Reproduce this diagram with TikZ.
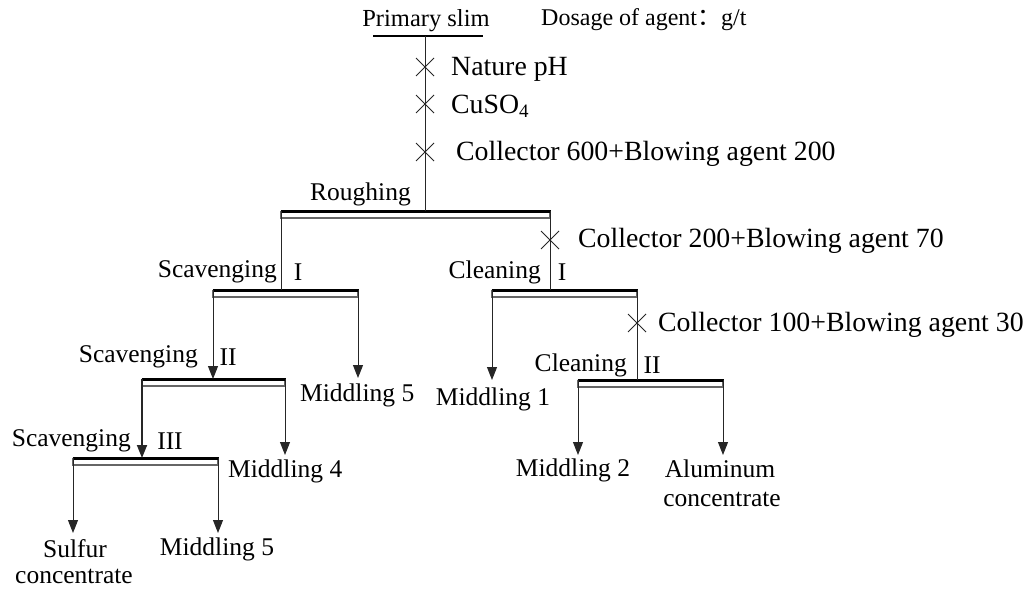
\documentclass[tikz,border=0pt]{standalone}
\usepackage{fontspec}
\setmainfont{Liberation Serif}
\newfontfamily\cjkfont{Noto Sans CJK SC}
\usetikzlibrary{arrows.meta}

% a flotation cell: thick top rule, thin lower rule, short sides
\newcommand\cellbar[4]{%
  \coordinate (#1-l) at (#2,#4);
  \coordinate (#1-r) at (#3,#4);
  \draw[cellside] (#2,#4) -- (#2,#4+7) -- (#3,#4+7) -- (#3,#4);
  \draw[celltop] (#2-0.5,#4) -- (#3+0.5,#4);
}
% reagent addition mark on a feed line
\newcommand\dosemark[2]{%
  \draw[mark line] (#1-9,#2-9) -- (#1+9,#2+9) (#1-9,#2+9) -- (#1+9,#2-9);
}

\begin{document}
\begin{tikzpicture}[x=1pt,y=-1pt,
  every node/.style={font=\fontsize{25.5}{30}\selectfont, inner sep=0pt},
  reagent/.style={anchor=west, font=\fontsize{27.8}{32}\selectfont},
  flow/.style={line width=1pt, draw=black!85},
  feed/.style={flow, -{Triangle[length=13pt,width=10pt]}},
  celltop/.style={line width=3pt, draw=black},
  cellside/.style={line width=1.2pt, draw=black!60},
  mark line/.style={line width=0.8pt, draw=black!85}]
\useasboundingbox (0,0) rectangle (1031,589);

% ---- feed ----
\node[font=\fontsize{24.5}{28}\selectfont] (feedlbl) at (426,21) {Primary slim};
\draw[line width=1.5pt] (373,36) -- (483,36);
\coordinate (F) at (425,36);
\node[anchor=west, font=\fontsize{24}{28}\selectfont] (dosage) at (541,20)
  {Dosage of agent{\cjkfont ：}g/t};

% ---- roughing ----
\cellbar{R}{281}{550}{211}
\node[anchor=west] (rlbl) at (310,194) {Roughing};
\draw[flow] (F) -- (F |- R-l);
\dosemark{425}{67}
\dosemark{425}{104}
\dosemark{425}{152}
\node[reagent] (r1) at (451,69) {Nature pH};
\node[reagent] (r2) at (451,106)
  {CuSO\raisebox{-0.3ex}{\fontsize{19}{20}\selectfont 4}};
\node[reagent] (r3) at (456,154) {Collector 600+Blowing agent 200};

% ---- scavenging line ----
\cellbar{S1}{213}{358}{290}
\node[anchor=east] (s1lbl) at (277,272) {Scavenging};
\node (s1num) at (298,272) {I};
\draw[flow] (R-l) -- (R-l |- S1-l);

\cellbar{S2}{142}{285}{379}
\node[anchor=east] (s2lbl) at (198,357) {Scavenging};
\node (s2num) at (228,357) {II};
\coordinate (S2-in) at (213,379);
\draw[feed] (S1-l) -- (S2-in);
\coordinate (S1-tail) at (358,378);
\draw[feed] (S1-r) -- (S1-tail);
\node[anchor=west] (m5a) at (300,395) {Middling 5};

\cellbar{S3}{73}{218}{458}
\node[anchor=east] (s3lbl) at (131,441) {Scavenging};
\node (s3num) at (170,441) {III};
\coordinate (S3-in) at (142,458);
\draw[feed, line width=1.8pt] (S2-l) -- (S3-in);
\coordinate (S2-tail) at (285,455);
\draw[feed] (S2-r) -- (S2-tail);
\node[anchor=west] (m4) at (228,471) {Middling 4};

\coordinate (S3-conc) at (73,533);
\coordinate (S3-tail) at (218,533);
\draw[feed] (S3-l) -- (S3-conc);
\draw[feed] (S3-r) -- (S3-tail);
\node (sulfur) at (75,549) {Sulfur};
\node (sulfur2) at (74,576) {concentrate};
\node (m5b) at (217,549) {Middling 5};

% ---- cleaning line ----
\cellbar{C1}{492}{637}{290}
\node[anchor=east] (c1lbl) at (541,272) {Cleaning};
\node (c1num) at (562,272) {I};
\draw[flow] (R-r) -- (R-r |- C1-l);
\dosemark{550}{240}
\node[reagent] (c1dose) at (578,241) {Collector 200+Blowing agent 70};

\coordinate (C1-tail) at (492,380);
\draw[feed] (C1-l) -- (C1-tail);
\node (m1) at (493,399) {Middling 1};

\cellbar{C2}{578}{723}{380}
\node[anchor=east] (c2lbl) at (627,365) {Cleaning};
\node (c2num) at (652,365) {II};
\draw[flow] (C1-r) -- (C1-r |- C2-l);
\dosemark{637}{323}
\node[reagent] (c2dose) at (658,325) {Collector 100+Blowing agent 30};

\coordinate (C2-tail) at (578,455);
\coordinate (C2-conc) at (723,455);
\draw[feed] (C2-l) -- (C2-tail);
\draw[feed] (C2-r) -- (C2-conc);
\node (m2) at (573,470) {Middling 2};
\node (al) at (720,469) {Aluminum};
\node (al2) at (722,499) {concentrate};
\end{tikzpicture}
\end{document}
